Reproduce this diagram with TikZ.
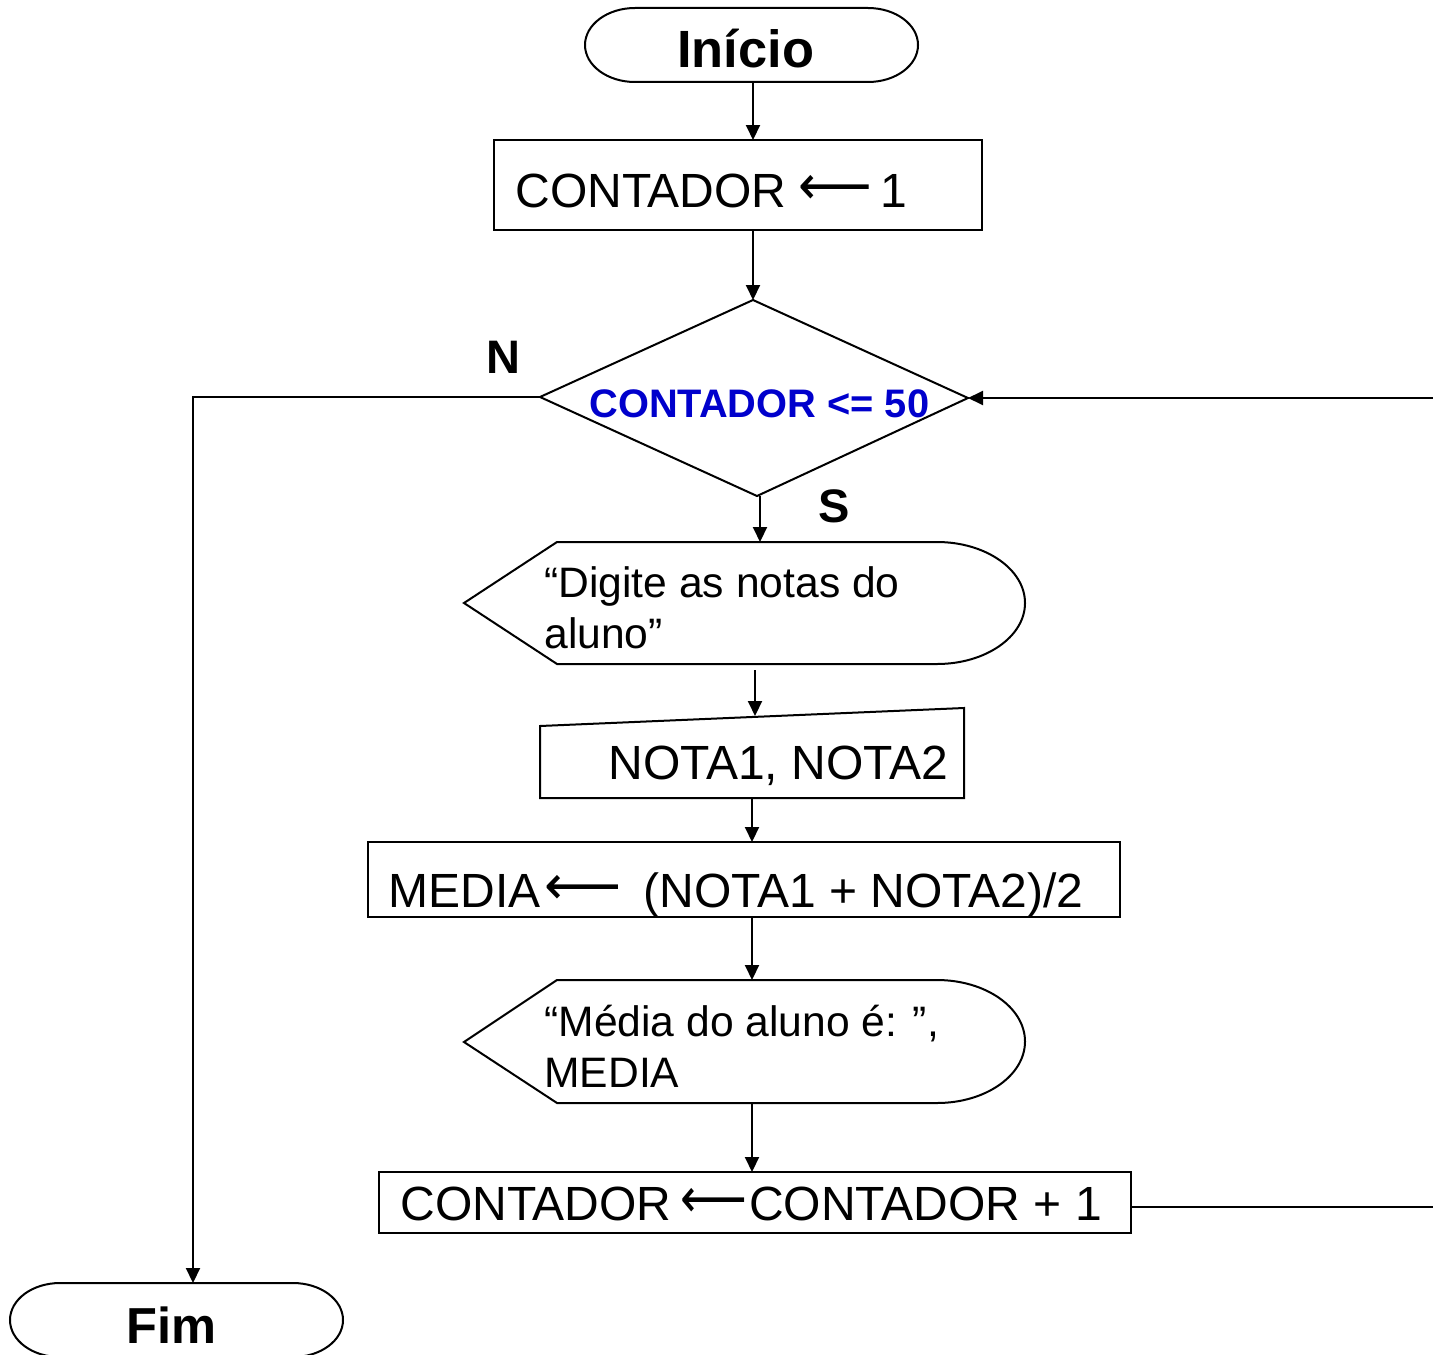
\documentclass[tikz,border=0pt]{standalone}
\usepackage{fontspec}
\setmainfont{Liberation Sans}
\newfontfamily\arrfont{DejaVu Sans}
\usetikzlibrary{arrows.meta}
\definecolor{cblue}{RGB}{0,0,204}
\newcommand{\larr}[1]{\raisebox{1.5pt}{\scalebox{#1}[1.15]{\arrfont ⟵}}}
\begin{document}
\begin{tikzpicture}[x=0.5pt,y=-0.5pt,
  shp/.style={draw,line width=1pt},
  arr/.style={line width=1pt,-{Triangle[length=7.5pt,width=7pt]}},
  txt/.style={anchor=base west,inner sep=0pt,font=\fontsize{24}{28}\selectfont},
  dtxt/.style={anchor=base west,inner sep=0pt,font=\fontsize{21.3}{26}\selectfont},
  btxt/.style={anchor=base west,inner sep=0pt,font=\fontsize{25}{30}\selectfont\bfseries}]
\useasboundingbox (0,0) rectangle (1433,1354);

% ---- Inicio terminator
\draw[shp] (635,8) -- (868,8) arc[start angle=-90,end angle=90,x radius=50,y radius=37]
  -- (635,82) arc[start angle=90,end angle=270,x radius=50,y radius=37] -- cycle;
\node[btxt,font=\fontsize{26.2}{30}\selectfont\bfseries] (tIni) at (677,68) {Início};
\coordinate (iniS) at (753,82);

% ---- box 1
\draw[shp] (494,140) rectangle (982,230);
\node[txt] (tB1) at (515,207) {CONTADOR\hspace{6pt}\larr{1.07}\hspace{4pt}1};
\coordinate (b1N) at (753,140);
\coordinate (b1S) at (753,230);

% ---- decision
\coordinate (dT) at (753,300);
\coordinate (dR) at (968,398);
\coordinate (dB) at (757,496);
\coordinate (dL) at (540,397);
\draw[shp] (dT) -- (dR) -- (dB) -- (dL) -- cycle;
\node[anchor=base west,inner sep=0pt,font=\fontsize{19.9}{24}\selectfont\bfseries,text=cblue] (tD) at (589,417) {CONTADOR <= 50};
\node[btxt,font=\fontsize{23.5}{28}\selectfont\bfseries] (tN) at (486,373) {N};
\node[btxt,font=\fontsize{23.5}{28}\selectfont\bfseries] (tS) at (818,522) {S};
\coordinate (dBo) at (760,496);

% ---- display 1
\draw[shp] (464,603) -- (557,542) -- (937,542) arc[start angle=-90,end angle=90,x radius=88,y radius=61]
  -- (557,664) -- cycle;
\node[dtxt] (tP1a) at (544,597) {“Digite as notas do};
\node[dtxt] (tP1b) at (544,648) {aluno”};
\coordinate (p1N) at (760,542);
\coordinate (p1S) at (755,670);

% ---- manual input
\draw[shp] (540,726) -- (964,708) -- (964,798) -- (540,798) -- cycle;
\node[txt] (tIn) at (608,779) {NOTA1, NOTA2};
\coordinate (inN) at (755,716);
\coordinate (inS) at (752,798);

% ---- box media
\draw[shp] (368,842) rectangle (1120,917);
\node[txt] (tM) at (388,907) {MEDIA\hspace{2pt}\larr{1.12}\hspace{11pt}(NOTA1 + NOTA2)/2};
\coordinate (mN) at (752,842);
\coordinate (mS) at (752,917);

% ---- display 2
\draw[shp] (464,1042) -- (557,980) -- (937,980) arc[start angle=-90,end angle=90,x radius=88,y radius=61.5]
  -- (557,1103) -- cycle;
\node[dtxt] (tP2a) at (544,1036) {“Média do aluno é: ”,};
\node[dtxt] (tP2b) at (544,1087) {MEDIA};
\coordinate (p2N) at (752,980);
\coordinate (p2S) at (752,1103);

% ---- box contador+1
\draw[shp] (379,1172) rectangle (1131,1233);
\node[txt] (tC) at (400,1220) {CONTADOR\hspace{4.5pt}\larr{0.97}\hspace{1pt}CONTADOR + 1};
\coordinate (cN) at (752,1172);
\coordinate (cE) at (1131,1207);

% ---- Fim terminator
\draw[shp] (60,1283) -- (293,1283) arc[start angle=-90,end angle=90,x radius=50,y radius=37]
  -- (60,1357) arc[start angle=90,end angle=270,x radius=50,y radius=37] -- cycle;
\node[btxt,font=\fontsize{25.3}{30}\selectfont\bfseries] (tF) at (126,1343) {Fim};
\coordinate (fN) at (193,1283);

% ---- loop corner coordinates (off page to the right)
\coordinate (eB) at (1440,1207);
\coordinate (eT) at (1440,398);
\coordinate (nC) at (193,397);

% ---- connectors
\draw[arr] (iniS) -- (b1N);
\draw[arr] (b1S) -- (dT);
\draw[arr] (dBo) -- (p1N);
\draw[arr] (p1S) -- (inN);
\draw[arr] (inS) -- (mN);
\draw[arr] (mS) -- (p2N);
\draw[arr] (p2S) -- (cN);
\draw[arr] (dL) -- (nC) -- (fN);
\draw[arr] (cE) -- (eB) -- (eT) -- (dR);
\end{tikzpicture}
\end{document}
